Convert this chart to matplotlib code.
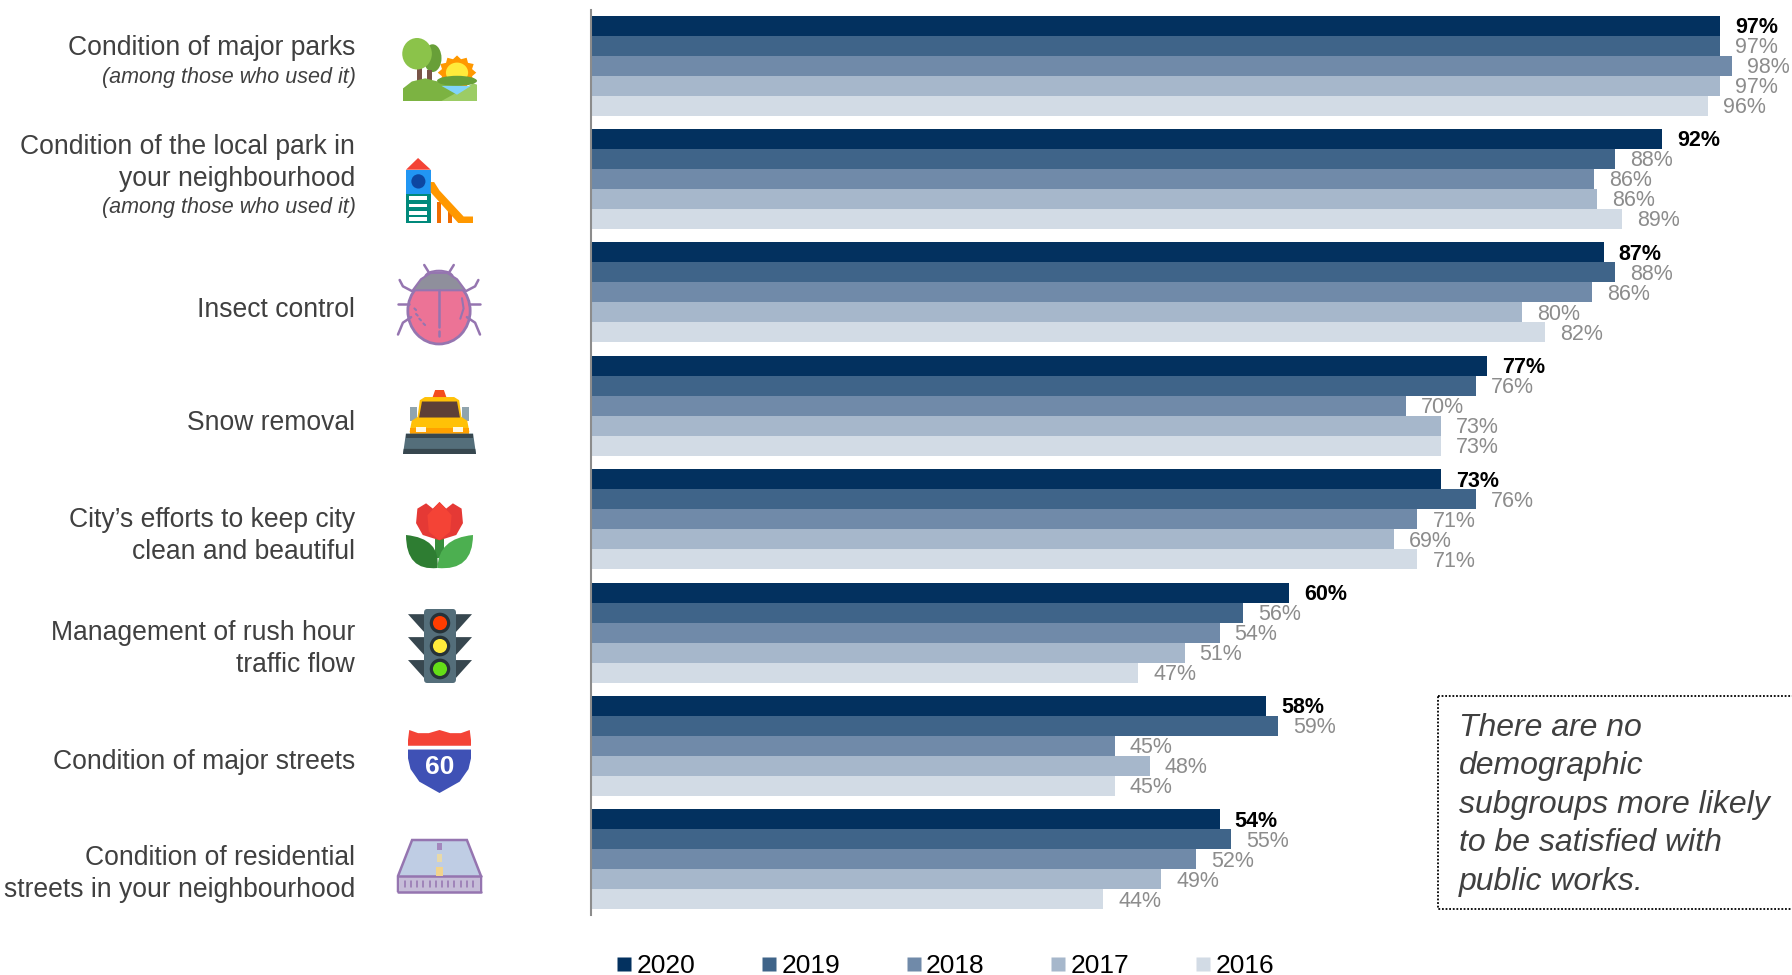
import matplotlib
matplotlib.use("Agg")
import numpy as np
import matplotlib.pyplot as plt
from matplotlib.lines import Line2D
from matplotlib.patches import Polygon, Ellipse, Rectangle, PathPatch, FancyBboxPatch
from matplotlib.path import Path
from matplotlib.transforms import Affine2D

plt.rcParams['font.family'] = ['Liberation Sans', 'DejaVu Sans']

# data, top group first
categories = ['Condition of major parks',
              'Condition of the local park in\nyour neighbourhood',
              'Insect control',
              'Snow removal',
              'City\u2019s efforts to keep city\nclean and beautiful',
              'Management of rush hour\ntraffic flow',
              'Condition of major streets',
              'Condition of residential\nstreets in your neighbourhood']
notes = ['(among those who used it)', '(among those who used it)', '', '', '', '', '', '']
years = ['2020', '2019', '2018', '2017', '2016']
v2020 = [97, 92, 87, 77, 73, 60, 58, 54]
v2019 = [97, 88, 88, 76, 76, 56, 59, 55]
v2018 = [98, 86.2, 86, 70, 71, 54, 45, 52]
v2017 = [97, 86.4, 80, 73, 69, 51, 48, 49]
v2016 = [96, 88.6, 82, 73, 71, 47, 45, 44]
series = [v2020, v2019, v2018, v2017, v2016]
colors = ['#03315F', '#3F6489', '#708AA9', '#A6B7CB', '#D2DBE5']
note_text = 'There are no\ndemographic\nsubgroups more likely\nto be satisfied with\npublic works.'

W, H = 1792, 975
fig = plt.figure(figsize=(W / 100, H / 100), dpi=100, facecolor='white')

# chart area in pixels: left 591, top 10, bottom 915, 11.64 px per percent
ax = fig.add_axes([591 / W, (H - 915) / H, (W - 591) / W, 905 / H])
ax.set_xlim(0, (W - 591) / 11.64)
ax.set_ylim(7.49, -0.49)
for s in ['top', 'right', 'bottom']:
    ax.spines[s].set_visible(False)
ax.spines['left'].set_color('#8C8C8C')
ax.spines['left'].set_linewidth(1.5)
ax.set_xticks([])
ax.set_yticks([])
ax.patch.set_alpha(0)

bar_h = 20 / 113.4
y = np.arange(len(categories))
for i, vals in enumerate(series):
    pos = y + (i - 2) * bar_h
    ax.barh(pos, vals, height=bar_h, color=colors[i], linewidth=0)
    for p, v in zip(pos, vals):
        ax.annotate(f'{round(v)}%', (v, p), xytext=(10.8, -1.4), textcoords='offset points',
                    va='center', ha='left', fontsize=15.5,
                    color='black' if i == 0 else '#8C8C8C',
                    fontweight='bold' if i == 0 else 'normal')

# overlay in pixel coordinates for labels, icons and note box
ov = fig.add_axes([0, 0, 1, 1], zorder=5)
ov.set_xlim(0, W)
ov.set_ylim(H, 0)
ov.axis('off')
ov.patch.set_alpha(0)

label_y = [48, 147, 310, 423, 520, 633, 762, 858]
note_y = [77, 207]
line_h = 32
n = 0
for lab, note, ly in zip(categories, notes, label_y):
    lines = lab.split('\n')
    for k, t in enumerate(lines):
        ov.text(355, ly + k * line_h, t, ha='right', va='center', fontsize=19.1, color='#404040')
    if note:
        ov.text(356, note_y[n], note, ha='right', va='center', fontsize=15.5,
                style='italic', color='#404040')
        n += 1


def tf(x0, y0, x1, y1):
    # unit square of the icon to its pixel box
    return Affine2D().scale(x1 - x0, y1 - y0).translate(x0, y0) + ov.transData


def poly(t, pts, fc, ec='none', lw=0, z=6):
    ov.add_patch(Polygon(pts, closed=True, fc=fc, ec=ec, lw=lw, transform=t, zorder=z))


def ell(t, cx, cy, w, h, fc, ec='none', lw=0, z=6):
    ov.add_patch(Ellipse((cx, cy), w, h, fc=fc, ec=ec, lw=lw, transform=t, zorder=z))


def rect(t, x, y_, w, h, fc, z=6):
    ov.add_patch(Rectangle((x, y_), w, h, fc=fc, ec='none', transform=t, zorder=z))


def curve(t, verts, fc, ec='none', lw=0, z=6):
    codes = [Path.MOVETO] + [Path.CURVE3] * (len(verts) - 1)
    ov.add_patch(PathPatch(Path(verts, codes), fc=fc, ec=ec, lw=lw, transform=t, zorder=z))


def seg(t, pts, col, lw, z=7):
    xs, ys = zip(*pts)
    ov.add_line(Line2D(xs, ys, color=col, lw=lw, transform=t, zorder=z, solid_capstyle='round'))


# park
t = tf(403, 38, 477, 101)
ell(t, 0.40, 0.32, 0.24, 0.44, '#689F38')
rect(t, 0.19, 0.40, 0.07, 0.30, '#795548')
rect(t, 0.33, 0.50, 0.06, 0.20, '#795548')
ell(t, 0.19, 0.25, 0.40, 0.50, '#8BC34A', z=6.5)
sun = [(0.73 + r * np.cos(a), 0.55 + r * np.sin(a) * 1.05) for a, r in
       zip(np.linspace(0, 2 * np.pi, 24, endpoint=False), [0.26, 0.21] * 12)]
poly(t, sun, '#FF9800')
ell(t, 0.73, 0.55, 0.30, 0.32, '#FFEB3B')
poly(t, [(0, 1), (0, 0.80), (0.12, 0.69), (0.30, 0.64), (0.50, 0.70), (1, 0.80), (1, 1)], '#7CB342', z=7)
poly(t, [(0.52, 1), (0.95, 0.72), (1, 0.74), (1, 1)], '#9CCC65', z=8)
ell(t, 0.73, 0.68, 0.54, 0.16, '#689F38', z=8)
poly(t, [(0.52, 0.76), (0.92, 0.76), (0.73, 0.90)], '#81D4FA', z=9)

# playground slide
t = tf(406, 158, 473, 223)
poly(t, [(0, 0.18), (0.18, 0), (0.37, 0.18)], '#F44336')
rect(t, 0, 0.18, 0.37, 0.37, '#2196F3')
ell(t, 0.185, 0.36, 0.21, 0.22, '#0D47A1')
rect(t, 0, 0.55, 0.37, 0.45, '#00897B')
for yy in [0.59, 0.70, 0.81, 0.91]:
    rect(t, 0.05, yy, 0.27, 0.06, 'white')
rect(t, 0.47, 0.68, 0.055, 0.32, '#EF6C00')
rect(t, 0.63, 0.77, 0.055, 0.23, '#EF6C00')
poly(t, [(0.37, 0.37), (0.42, 0.37), (0.50, 0.50), (0.86, 0.90), (1, 0.90), (1, 1),
         (0.78, 1), (0.37, 0.53)], '#FF9800', z=7)

# bug
t = tf(398, 265, 480, 344)
leg = '#9575B0'
for sx in [0, 1]:
    f = (lambda a: a) if sx == 0 else (lambda a: 1 - a)
    seg(t, [(f(0.17), 0.33), (f(0.06), 0.27), (f(0.02), 0.19)], leg, 1.8)
    seg(t, [(f(0.14), 0.49), (f(0.0), 0.49)], leg, 1.8)
    seg(t, [(f(0.16), 0.66), (f(0.06), 0.73), (f(0.0), 0.88)], leg, 1.8)
    seg(t, [(f(0.38), 0.10), (f(0.32), 0.0)], leg, 1.8)
ell(t, 0.5, 0.15, 0.34, 0.16, '#A387BD', leg, 1.2)
ell(t, 0.5, 0.58, 0.76, 0.84, '#EC7396', leg, 2, z=6)
poly(t, [(0.18, 0.32), (0.28, 0.18), (0.40, 0.10), (0.60, 0.10), (0.72, 0.18), (0.82, 0.32)],
     '#8F8F9C', leg, 1.5, z=7)
seg(t, [(0.5, 0.32), (0.5, 0.78)], leg, 1.8, z=8)
seg(t, [(0.5, 0.84), (0.5, 0.90)], leg, 1.8, z=8)
seg(t, [(0.78, 0.42), (0.80, 0.55), (0.76, 0.68)], leg, 1.5, z=8)
for xx, yy in [(0.20, 0.55), (0.22, 0.62), (0.26, 0.68), (0.31, 0.74)]:
    seg(t, [(xx, yy), (xx + 0.02, yy + 0.02)], leg, 1.5, z=8)

# snow plow
t = tf(403, 390, 476, 454)
rect(t, 0.09, 0.26, 0.10, 0.22, '#90A4AE')
rect(t, 0.81, 0.26, 0.10, 0.22, '#90A4AE')
poly(t, [(0.40, 0.13), (0.44, 0.0), (0.56, 0.0), (0.60, 0.13)], '#F44D1C')
poly(t, [(0.09, 0.66), (0.12, 0.48), (0.20, 0.42), (0.23, 0.16), (0.30, 0.11), (0.70, 0.11),
         (0.77, 0.16), (0.80, 0.42), (0.88, 0.48), (0.91, 0.66)], '#FFC107')
poly(t, [(0.22, 0.43), (0.26, 0.18), (0.74, 0.18), (0.78, 0.43)], '#5D4037', z=7)
rect(t, 0.09, 0.60, 0.82, 0.08, '#FFA000', z=7)
rect(t, 0.18, 0.58, 0.13, 0.08, '#FFF8E1', z=8)
rect(t, 0.69, 0.58, 0.13, 0.08, '#FFF8E1', z=8)
poly(t, [(0.04, 0.68), (0.96, 0.68), (1, 1), (0, 1)], '#546E7A', z=8)
rect(t, 0.04, 0.68, 0.92, 0.07, '#37474F', z=9)
poly(t, [(0.01, 0.92), (0.99, 0.92), (1, 1), (0, 1)], '#37474F', z=9)

# tulip
t = tf(406, 502, 473, 568)
rect(t, 0.44, 0.50, 0.12, 0.35, '#388E3C')
curve(t, [(0, 0.50), (0, 1.05), (0.47, 1.0), (0.52, 0.55), (0, 0.50)], '#2E7D32')
curve(t, [(1, 0.50), (1, 1.05), (0.47, 1.0), (0.48, 0.55), (1, 0.50)], '#4CAF50')
poly(t, [(0.17, 0.10), (0.30, 0.02), (0.40, 0.10), (0.50, 0.0), (0.60, 0.10), (0.70, 0.02), (0.83, 0.10),
         (0.85, 0.32), (0.75, 0.50), (0.50, 0.58), (0.25, 0.50), (0.15, 0.32)], '#E53935', z=7)
poly(t, [(0.50, 0.0), (0.68, 0.20), (0.66, 0.45), (0.50, 0.58), (0.34, 0.45), (0.32, 0.20)], '#F44336', z=8)

# traffic light
t = tf(408, 609, 472, 683)
for yy in [0.07, 0.38, 0.69]:
    poly(t, [(0, yy), (1, yy), (0.75, yy + 0.24), (0.25, yy + 0.24)], '#37474F')
ov.add_patch(FancyBboxPatch((0.25, 0.0), 0.50, 1.0, boxstyle='round,pad=0,rounding_size=0.05',
                            fc='#546E7A', ec='none', transform=t, zorder=7))
for yy, col in zip([0.19, 0.50, 0.81], ['#FF3D00', '#FFEB3B', '#64DD17']):
    ell(t, 0.5, yy, 0.32, 0.28, '#263238', z=8)
    ell(t, 0.5, yy, 0.22, 0.19, col, z=9)

# highway shield
t = tf(408, 730, 471, 793)
poly(t, [(0.0, 0.16), (0.02, 0.0), (0.16, 0.05), (0.33, 0.05), (0.50, 0.0), (0.67, 0.05), (0.84, 0.05),
         (0.98, 0.0), (1.0, 0.16), (1.0, 0.25), (0, 0.25)], '#F44336')
poly(t, [(0, 0.31), (1, 0.31), (1, 0.45), (0.96, 0.62), (0.82, 0.82), (0.50, 1.0),
         (0.18, 0.82), (0.04, 0.62), (0, 0.45)], '#3F51B5')
ov.text(439.5, 766.5, '60', ha='center', va='center', color='white', fontsize=19, fontweight='bold', zorder=8)

# road
t = tf(398, 840, 481, 893)
pur = '#9575B0'
poly(t, [(0.17, 0.0), (0.83, 0.0), (1, 0.68), (1, 0.96), (0, 0.96), (0, 0.68)], '#BFCDE4', pur, 1.8)
rect(t, 0.01, 0.68, 0.98, 0.30, '#C6BDD8', z=7)
seg(t, [(0, 0.68), (1, 0.68)], pur, 1.8, z=8)
seg(t, [(0, 0.98), (1, 0.98)], pur, 1.8, z=8)
for xx in np.arange(0.08, 0.95, 0.075):
    seg(t, [(xx, 0.78), (xx, 0.88)], pur, 1.1, z=8)
rect(t, 0.475, 0.05, 0.05, 0.13, '#A387BD', z=8)
rect(t, 0.47, 0.27, 0.06, 0.15, '#E8D9A8', z=8)
rect(t, 0.46, 0.50, 0.08, 0.18, '#F2D48C', z=8)

# note box, runs off the right edge
ov.add_patch(Rectangle((1438, 696), 420, 213, fc='white', ec='black', lw=1.3,
                       ls=(0, (1, 1)), zorder=3, clip_on=True))
for k, t_line in enumerate(note_text.split('\n')):
    ov.text(1459, 728 + k * 38.4, t_line, ha='left', va='center', fontsize=23,
            style='italic', color='#404040', zorder=6)

# legend
handles = [Line2D([], [], ls='none', marker='s', ms=10, mfc=c, mec='none') for c in colors]
fig.legend(handles, years, ncol=5, frameon=False, fontsize=19, loc='center left',
           bbox_to_anchor=(611.6 / W, 1 - 966 / H), handletextpad=0.0, handlelength=0.94,
           columnspacing=2.32, labelcolor='black', borderpad=0, borderaxespad=0)

fig.savefig('out.png', dpi=100, facecolor='white')
